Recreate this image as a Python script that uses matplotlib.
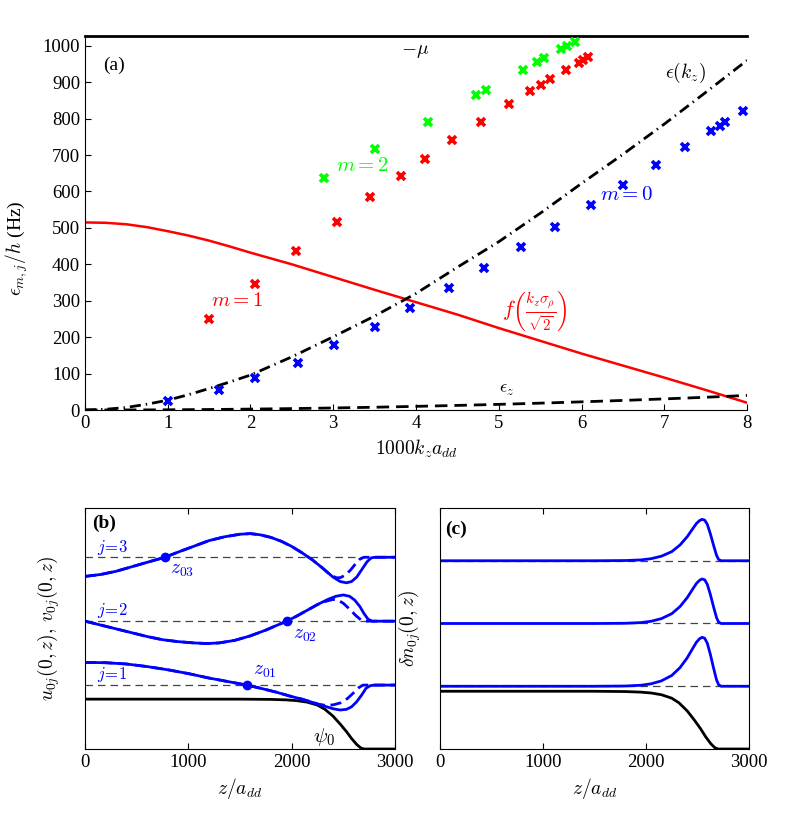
import matplotlib
matplotlib.use("Agg")
import matplotlib.pyplot as plt

plt.rcParams["font.family"] = "serif"
plt.rcParams["font.serif"] = ["Liberation Serif", "DejaVu Serif"]
plt.rcParams["mathtext.fontset"] = "cm"

BLUE, RED, GREEN = "#0000ff", "#ff0000", "#00ff00"

# ---- panel (a): excitation energies vs 1000 k_z a_dd
k_m0 = [1.0, 1.62, 2.05, 2.57, 3.01, 3.5, 3.93, 4.40, 4.82, 5.27, 5.68, 6.11, 6.50, 6.90, 7.25, 7.57, 7.67, 7.74, 7.95]
e_m0 = [25, 55, 89, 130, 178, 228, 280, 335, 390, 447, 503, 562, 618, 673, 723, 766, 781, 791, 822]
k_m1 = [1.50, 2.06, 2.55, 3.04, 3.45, 3.82, 4.11, 4.44, 4.79, 5.12, 5.38, 5.51, 5.62, 5.81, 5.97, 6.02, 6.08]
e_m1 = [249, 346, 436, 517, 586, 643, 690, 740, 791, 839, 875, 893, 908, 934, 953, 962, 968]
k_m2 = [2.89, 3.51, 4.15, 4.73, 4.85, 5.29, 5.46, 5.55, 5.75, 5.82, 5.92]
e_m2 = [638, 716, 792, 864, 878, 933, 955, 966, 991, 1000, 1010]

k_f = [0, 0.25, 0.5, 0.75, 1, 1.25, 1.5, 1.75, 2, 2.5, 3, 3.5, 4, 4.5, 5, 5.5, 6, 6.5, 7, 7.5, 8]
f_line = [515, 514, 510, 502, 491, 479, 465, 449, 432, 400, 365, 330, 296, 262, 225, 190, 155, 122, 89, 55, 20]
k_e = [0, 0.25, 0.5, 0.75, 1, 1.25, 1.5, 1.75, 2, 2.5, 3, 3.5, 4, 4.5, 5, 5.5, 6, 6.5, 7, 7.5, 8]
eps_kz = [0, 2, 7, 16, 27, 42, 59, 77, 96, 146, 201, 258, 320, 392, 462, 540, 622, 702, 785, 872, 960]
eps_z = [0, 0.05, 0.2, 0.35, 0.6, 1.0, 1.4, 1.9, 2.5, 3.9, 5.6, 7.6, 10, 12.6, 15.5, 18.8, 22.4, 26.3, 30.5, 35, 40]
minus_mu = 1027

# ---- panel (b): u_0j (solid) and v_0j (dashed), offset by j
z_u1 = [0, 200, 400, 600, 800, 1000, 1200, 1400, 1565, 1700, 1850, 2000, 2100, 2200, 2300, 2400,
        2470, 2530, 2580, 2630, 2680, 2720, 2760, 2800, 3000]
u1 = [1.355, 1.35, 1.33, 1.29, 1.24, 1.18, 1.11, 1.05, 1.0, 0.95, 0.89, 0.82, 0.78, 0.73, 0.68, 0.63,
      0.61, 0.62, 0.66, 0.74, 0.85, 0.95, 0.99, 1.0, 1.0]
z_v1 = [0, 200, 400, 600, 800, 1000, 1200, 1400, 1565, 1700, 1850, 2000, 2100, 2200, 2260, 2320,
        2400, 2470, 2540, 2600, 2650, 2690, 3000]
v1 = [1.355, 1.35, 1.33, 1.29, 1.24, 1.18, 1.11, 1.05, 1.0, 0.95, 0.89, 0.82, 0.78, 0.73, 0.70, 0.685,
      0.69, 0.72, 0.79, 0.88, 0.96, 1.0, 1.0]
z_u2 = [0, 150, 300, 450, 600, 750, 900, 1050, 1180, 1300, 1450, 1600, 1750, 1850, 1952, 2050, 2150,
        2250, 2350, 2430, 2500, 2560, 2610, 2660, 2700, 2740, 2780, 3000]
u2 = [2.0, 1.94, 1.88, 1.82, 1.76, 1.71, 1.68, 1.66, 1.65, 1.66, 1.70, 1.77, 1.86, 1.93, 2.0, 2.08, 2.17,
      2.26, 2.34, 2.39, 2.41, 2.39, 2.33, 2.23, 2.12, 2.03, 2.0, 2.0]
z_v2 = [0, 150, 300, 450, 600, 750, 900, 1050, 1180, 1300, 1450, 1600, 1750, 1850, 1952, 2050, 2150,
        2250, 2330, 2400, 2450, 2500, 2560, 2620, 2670, 2700, 3000]
v2 = [2.0, 1.94, 1.88, 1.82, 1.76, 1.71, 1.68, 1.66, 1.65, 1.66, 1.70, 1.77, 1.86, 1.93, 2.0, 2.08, 2.17,
      2.26, 2.31, 2.34, 2.33, 2.28, 2.19, 2.09, 2.02, 2.0, 2.0]
z_u3 = [0, 150, 300, 450, 600, 774, 900, 1050, 1200, 1350, 1500, 1600, 1700, 1800, 1900, 2000, 2100,
        2200, 2300, 2400, 2470, 2530, 2580, 2630, 2680, 2730, 2770, 2810, 3000]
u3 = [2.70, 2.73, 2.78, 2.85, 2.92, 3.0, 3.08, 3.17, 3.26, 3.32, 3.36, 3.37, 3.35, 3.31, 3.25, 3.17, 3.07,
      2.96, 2.83, 2.69, 2.62, 2.60, 2.62, 2.69, 2.81, 2.93, 2.99, 3.0, 3.0]
z_v3 = [0, 150, 300, 450, 600, 774, 900, 1050, 1200, 1350, 1500, 1600, 1700, 1800, 1900, 2000, 2100,
        2200, 2300, 2370, 2430, 2470, 2520, 2570, 2620, 2660, 2700, 3000]
v3 = [2.70, 2.73, 2.78, 2.85, 2.92, 3.0, 3.08, 3.17, 3.26, 3.32, 3.36, 3.37, 3.35, 3.31, 3.25, 3.17, 3.07,
      2.96, 2.83, 2.73, 2.68, 2.68, 2.72, 2.80, 2.90, 2.97, 3.0, 3.0]
z_nodes = [1565, 1952, 774]
node_lbl = [r"$z_{01}$", r"$z_{02}$", r"$z_{03}$"]

# condensate psi_0 (normalised shape), used in (b) and (c)
z_psi = [0, 1500, 1800, 1950, 2050, 2150, 2250, 2320, 2400, 2470, 2530, 2580, 2630, 2670, 2700, 3000]
psi = [1.0, 1.0, 0.995, 0.985, 0.97, 0.94, 0.88, 0.80, 0.66, 0.50, 0.35, 0.21, 0.09, 0.02, 0.0, 0.0]
psi_b, psi_c = 0.78, 0.92

# ---- panel (c): density fluctuation peaks (normalised), amplitude per j
z_dn = [0, 1500, 1800, 1950, 2050, 2150, 2250, 2330, 2400, 2450, 2490, 2520, 2545, 2570, 2595,
        2625, 2655, 2685, 2705, 2730, 3000]
dn = [0, 0, 0.005, 0.02, 0.05, 0.11, 0.22, 0.38, 0.58, 0.76, 0.9, 0.97, 1.0, 0.98, 0.88,
      0.65, 0.38, 0.13, 0.03, 0.0, 0.0]
dn_amp = [0.78, 0.71, 0.66]
levels = [1, 2, 3]

fig = plt.figure(figsize=(7.92, 8.21), dpi=100)

# ---------------- (a)
ax = fig.add_axes([0.1073, 0.5006, 0.8359, 0.4556])
ax.plot(k_f, f_line, color=RED, lw=1.8)
ax.plot(k_e, eps_kz, color="k", lw=2, dashes=(4, 1.8, 0.5, 1.8))
ax.plot(k_e, eps_z, color="k", lw=2, dashes=(4.5, 2.5))
ax.axhline(minus_mu, color="k", lw=2, clip_on=False)
mk = dict(ls="none", marker="x", ms=6, mew=2.6, clip_on=False)
ax.plot(k_m0, e_m0, color=BLUE, **mk)
ax.plot(k_m1, e_m1, color=RED, **mk)
ax.plot(k_m2, e_m2, color=GREEN, **mk)
ax.set_xlim(0, 8)
ax.set_ylim(0, minus_mu)
ax.set_xticks(range(9))
ax.set_yticks(range(0, 1001, 100))
ax.spines["top"].set_visible(False)
ax.spines["right"].set_visible(False)
ax.tick_params(direction="in", length=4, labelsize=13.5)
ax.set_xlabel(r"$1000k_z a_{dd}$", fontsize=14, labelpad=4)
ax.set_ylabel(r"$\epsilon_{m,j}/h$ (Hz)", fontsize=14)
ax.yaxis.set_label_coords(-0.083, 0.433)

ax.text(0.35, 946, "(a)", fontsize=14, ha="center", va="center")
ax.text(3.99, 983, r"$-\mu$", fontsize=14, ha="center", va="center")
ax.text(7.26, 925, r"$\epsilon(k_z)$", fontsize=14, ha="center", va="center")
ax.text(3.35, 668, r"$m=2$", fontsize=15, color=GREEN, ha="center", va="center")
ax.text(6.55, 588, r"$m=0$", fontsize=15, color=BLUE, ha="center", va="center")
ax.text(1.84, 298, r"$m=1$", fontsize=15, color=RED, ha="center", va="center")
ax.text(5.44, 273, r"$f\left(\frac{k_z\sigma_\rho}{\sqrt{2}}\right)$", fontsize=15.5,
        color=RED, ha="center", va="center")
ax.text(5.1, 55, r"$\epsilon_z$", fontsize=13, ha="center", va="center")

# ---------------- (b)
bx = fig.add_axes([0.1073, 0.0877, 0.3914, 0.2935])
for lv in levels:
    bx.axhline(lv, color="#444444", lw=0.9, dashes=(6, 4))
bx.plot(z_psi, [p * psi_b for p in psi], color="k", lw=2)
for zu, u, zv, v in [(z_u1, u1, z_v1, v1), (z_u2, u2, z_v2, v2), (z_u3, u3, z_v3, v3)]:
    bx.plot(zv, v, color=BLUE, lw=2, dashes=(4, 2))
    bx.plot(zu, u, color=BLUE, lw=2)
bx.plot(z_nodes, levels, ls="none", marker="o", ms=6, color=BLUE)
for lv in levels:
    bx.text(116, lv + 0.16, rf"$j\!=\!{lv}$", fontsize=12, color=BLUE, va="center")
for zn, lv, lb, dx, dy in zip(z_nodes, levels, node_lbl, [60, 60, 47], [0.21, -0.22, -0.2]):
    bx.text(zn + dx, lv + dy, lb, fontsize=14, color=BLUE, va="center")
bx.text(2206, 0.19, r"$\psi_0$", fontsize=15, va="center")
bx.text(68, 3.53, "(b)", fontsize=14, fontweight="bold", va="center")
bx.set_xlim(0, 3000)
bx.set_ylim(0, 3.77)
bx.set_ylabel(r"$u_{0j}(0,z),\, v_{0j}(0,z)$", fontsize=14)
bx.yaxis.set_label_coords(-0.074, 0.5)

# ---------------- (c)
cx = fig.add_axes([0.5556, 0.0877, 0.3901, 0.2935])
for lv in levels:
    cx.axhline(lv, color="#444444", lw=0.9, dashes=(6, 4))
cx.plot(z_psi, [p * psi_c for p in psi], color="k", lw=2)
for lv, a in zip(levels, dn_amp):
    cx.plot(z_dn, [lv + a * d for d in dn], color=BLUE, lw=2)
cx.text(49, 3.50, "(c)", fontsize=14, fontweight="bold", va="center")
cx.set_xlim(0, 3000)
cx.set_ylim(0, 3.84)
cx.set_ylabel(r"$\delta n_{0j}(0,z)$", fontsize=14)
cx.yaxis.set_label_coords(-0.055, 0.5)

for a in (bx, cx):
    a.set_xticks([0, 1000, 2000, 3000])
    a.set_yticks([])
    a.tick_params(direction="in", length=4, top=True, labelsize=13.5)
    a.set_xlabel(r"$z/a_{dd}$", fontsize=14, labelpad=4)

fig.savefig("out.png", dpi=100)
